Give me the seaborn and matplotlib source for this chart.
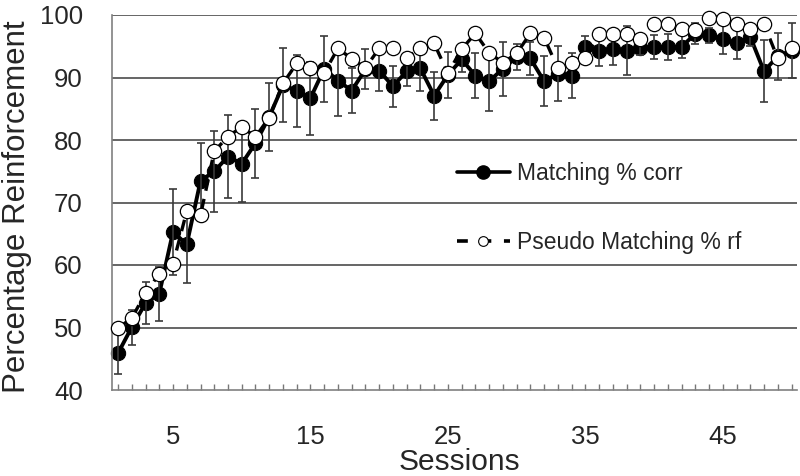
import numpy as np
import pandas as pd
import matplotlib
matplotlib.use("Agg")
import matplotlib.pyplot as plt
from matplotlib.lines import Line2D
import seaborn as sns

sessions = list(range(1, 51))
matching_corr = [45.9, 50.05, 53.9, 55.4, 65.3, 63.3, 73.45, 75.0, 77.35, 76.2,
                 79.5, 83.7, 88.8, 87.9, 86.7, 91.4, 89.5, 87.9, 91.3, 91.1,
                 88.6, 91.0, 91.45, 87.1, 90.4, 92.9, 90.3, 89.4, 91.4, 93.3,
                 93.05, 89.4, 90.6, 90.3, 94.9, 94.3, 94.5, 94.3, 94.8, 94.9,
                 94.9, 94.9, 97.0, 96.8, 96.1, 95.45, 96.5, 91.0, 93.4, 94.3]
matching_err = [3.4, 2.8, 3.35, 4.3, 6.9, 6.1, 6.0, 6.5, 6.6, 6.1,
                5.5, 5.4, 5.9, 5.75, 5.85, 5.25, 5.6, 3.55, 3.2, 3.3,
                3.25, 2.4, 3.55, 3.85, 3.7, 2.0, 3.6, 4.7, 4.35, 2.1,
                2.65, 4.0, 4.4, 3.65, 1.7, 2.5, 2.5, 3.9, 1.2, 1.9,
                2.1, 1.85, 1.65, 1.2, 2.35, 2.5, 1.4, 4.95, 3.75, 4.4]
pseudo_rf = [49.9, 51.5, 55.5, 58.6, 60.2, 68.6, 67.95, 78.2, 80.55, 82.1,
             80.5, 83.6, 89.05, 92.25, 91.45, 90.75, 94.65, 93.0, 91.55, 94.65,
             94.65, 93.2, 94.65, 95.45, 90.65, 94.55, 97.05, 93.95, 92.35, 93.85,
             97.05, 96.4, 91.45, 92.35, 93.05, 96.95, 96.95, 96.95, 96.1, 98.55,
             98.55, 97.75, 97.6, 99.45, 99.3, 98.55, 97.7, 98.55, 93.05, 94.65]
xtick_labels = {5: "5", 15: "15", 25: "25", 35: "35", 45: "45"}
yticks = [40, 50, 60, 70, 80, 90, 100]
label_a = "Matching % corr"
label_b = "Pseudo Matching % rf"

df = pd.DataFrame({"Session": sessions, "A": matching_corr, "Aerr": matching_err, "B": pseudo_rf})

sns.set_theme(style="white")
plt.rcParams["font.family"] = ["Liberation Sans", "DejaVu Sans"]

fig = plt.figure(figsize=(8.0, 4.76), dpi=100)
ax = fig.add_axes([112/800, 1-390/476, (797-112)/800, 375/476])

for y in yticks[1:]:
    ax.axhline(y, color="#3c3c3c", lw=1.1, zorder=0.5)

sns.lineplot(data=df, x="Session", y="A", ax=ax, color="black", lw=2.8,
             marker="o", markersize=10.3, markerfacecolor="black",
             markeredgecolor="black", zorder=2, legend=False, clip_on=False)
ax.errorbar(df["Session"], df["A"], yerr=df["Aerr"], fmt="none",
            ecolor="#3a3a3a", elinewidth=1.2, capsize=3.2, capthick=1.2, zorder=2.5,
            clip_on=False)
sns.lineplot(data=df, x="Session", y="B", ax=ax, color="black", lw=2.4,
             linestyle=(0, (3.5, 2.5)), marker="o", markersize=10.3,
             markerfacecolor="white", markeredgecolor="black",
             markeredgewidth=0.9, zorder=3, legend=False, clip_on=False)

ax.set_xlim(0.56, 50.4)
ax.set_ylim(40, 100)
ax.set_yticks(yticks)
ax.set_xticks(sessions)
ax.set_xticklabels([xtick_labels.get(s, "") for s in sessions])
ax.tick_params(axis="x", direction="in", length=4, width=1, color="#777777",
               pad=25, labelsize=18.5, bottom=True)
ax.tick_params(axis="y", length=0, pad=21, labelsize=18.5)

for side in ["top", "right"]:
    ax.spines[side].set_visible(False)
for side in ["left", "bottom"]:
    ax.spines[side].set_color("#808080")
    ax.spines[side].set_linewidth(1.2)

ax.set_xlabel("Sessions", fontsize=21.5)
ax.set_ylabel("Percentage Reinforcement", fontsize=22.5)
ax.xaxis.set_label_coords(0.507, -0.155)
ax.yaxis.set_label_coords(-0.117, 0.49)

handles = [
    Line2D([0], [0], color="black", lw=2.6, marker="o", markersize=9.5,
           markerfacecolor="black", markeredgecolor="black"),
    Line2D([0], [0], color="black", lw=2.6, linestyle=(0, (3, 3.5)), marker="o",
           markersize=7, markerfacecolor="white", markeredgecolor="black",
           markeredgewidth=0.8),
]
ax.legend(handles, [label_a, label_b], loc="upper left",
          bbox_to_anchor=(457/800, 1-162/476), bbox_transform=fig.transFigure,
          frameon=False, fontsize=16.5, handlelength=2.3, handletextpad=0.3,
          labelspacing=2.0, borderpad=0, borderaxespad=0)

fig.savefig("out.png", dpi=100)
